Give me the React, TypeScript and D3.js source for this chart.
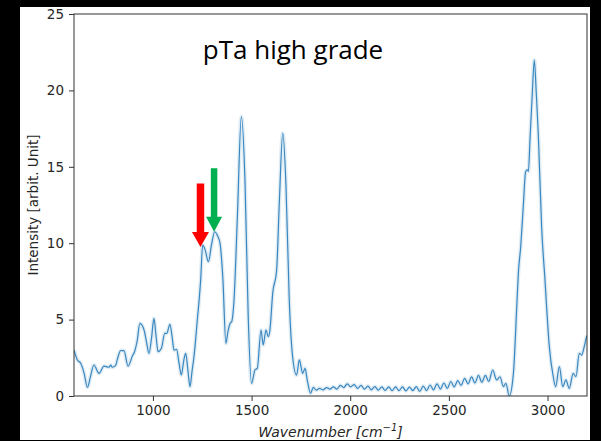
import { useEffect, useRef } from 'react'
import * as d3 from 'd3'

// spectrum (wavenumber in cm^-1, mean intensity)
const wavenumber = [
  600, 617, 634, 651, 668, 684, 701, 727, 752, 777, 786, 794, 811, 819, 836, 853, 874, 896, 907, 920, 934, 955, 968, 980, 993, 1005,
  1016, 1026, 1043, 1060, 1070, 1086, 1097, 1107, 1120, 1133, 1144, 1156, 1166, 1178, 1188, 1198, 1208, 1225, 1242, 1252, 1266, 1281,
  1297, 1313, 1327, 1340, 1354, 1370, 1380, 1391, 1399, 1411, 1428, 1448, 1467, 1483, 1500, 1517, 1529, 1548, 1559, 1573, 1585, 1593,
  1607, 1627, 1641, 1658, 1674, 1691, 1708, 1728, 1742, 1759, 1771, 1782, 1799,
  1813, 1828, 1845, 1862, 1880, 1897, 1915, 1932, 1950, 1967, 1985, 2002, 2020, 2037, 2055, 2072, 2090, 2107, 2125, 2142, 2160, 2177,
  2195, 2212, 2230, 2247, 2265, 2282, 2300, 2317, 2335, 2352, 2370, 2387, 2405, 2422, 2440, 2457, 2475, 2492, 2510, 2527, 2545, 2562,
  2580, 2597, 2615, 2632, 2650, 2667, 2685, 2702, 2722, 2742, 2759, 2776, 2789, 2806, 2827, 2844, 2852, 2864, 2877, 2889, 2898, 2903,
  2911, 2922, 2933, 2943, 2953, 2970, 2987, 3009, 3029, 3041, 3060, 3077, 3093, 3110, 3130, 3144, 3161, 3173, 3186, 3198, 3200,
]

const intensity = [
  3.0, 2.36, 2.14, 1.5, 0.57, 1.3, 2.03, 1.48, 1.96, 1.88, 2.03, 1.88, 2.0, 2.36, 2.97, 2.97, 1.96, 2.62, 2.9, 3.6, 4.75, 4.32, 3.5, 2.79, 3.8, 5.08,
  3.9, 2.9, 3.12, 4.1, 4.1, 4.69, 3.9, 3.0, 3.05, 2.1, 1.37, 2.3, 2.79, 1.6, 0.61, 1.6, 2.57, 4.97, 7.6, 9.88, 9.5, 8.79,
  9.9, 10.75, 10.5, 10.0, 7.8, 3.45, 4.2, 4.75, 4.86, 6.28, 11.7, 18.28, 13.9, 5.19, 0.83, 1.7, 1.81, 4.32, 3.34, 4.32, 3.88, 4.32,
  6.72, 8.25, 12.8, 17.2, 13.9, 6.28, 2.57, 1.37, 2.36, 1.48, 1.81, 1.05, 0.18,
  0.57, 0.38, 0.5, 0.4, 0.55, 0.45, 0.6, 0.45, 0.7, 0.55, 0.8, 0.6, 0.75, 0.5, 0.7, 0.45, 0.65, 0.4, 0.62, 0.38, 0.6, 0.36,
  0.6, 0.35, 0.6, 0.35, 0.6, 0.33, 0.58, 0.35, 0.62, 0.3, 0.65, 0.35, 0.72, 0.4, 0.8, 0.45, 0.85, 0.5, 0.95, 0.6, 1.0, 0.7,
  1.15, 0.8, 1.25, 0.85, 1.35, 0.9, 1.35, 0.95, 1.7, 1.05, 1.26, 0.61, 0.83, 0.0, 1.48, 5.85, 8.03, 9.77, 12.4, 14.68, 14.8, 14.7,
  16.75, 19.6, 21.99, 19.8, 17.2, 11.08, 7.6, 3.23, 1.26, 0.61, 1.92, 0.61, 1.05, 0.5, 1.48, 1.26, 2.79, 2.68, 3.23, 3.88, 3.95,
]

const xTicks = [1000, 1500, 2000, 2500, 3000]
const yTicks = [0, 5, 10, 15, 20, 25]

// arrows marking the two sub-peaks: [wavenumber, intensity at tip, shaft top intensity]
const arrowRed = [1241, 9.75, 13.9]
const arrowGreen = [1310, 10.75, 14.9]

export default function App() {
  const ref = useRef<SVGSVGElement>(null)

  useEffect(() => {
    const svg = d3.select(ref.current)
    svg.selectAll('*').remove()

    const W = 601, H = 441
    const m = { left: 74, top: 14, right: 587, bottom: 396 }

    svg.append('rect').attr('width', W).attr('height', H).attr('fill', '#000')
    svg.append('rect').attr('x', 20).attr('y', 7).attr('width', 570).attr('height', 433).attr('fill', '#fff')

    const x = d3.scaleLinear().domain([600, 3200]).range([m.left, m.right])
    const y = d3.scaleLinear().domain([0, 25]).range([m.bottom, m.top])

    const tickFont = '"DejaVu Sans", sans-serif'

    // axes
    svg.append('g')
      .attr('transform', `translate(0,${m.bottom})`)
      .call(d3.axisBottom(x).tickValues(xTicks).tickSize(5).tickPadding(4).tickFormat(d3.format('d')))
      .call(g => g.select('.domain').remove())
      .call(g => g.selectAll('line').attr('stroke', '#333'))
      .selectAll('text')
      .style('font-family', tickFont)
      .style('font-size', '13.5px')
      .style('fill', '#262626')

    svg.append('g')
      .attr('transform', `translate(${m.left},0)`)
      .call(d3.axisLeft(y).tickValues(yTicks).tickSize(5).tickPadding(5))
      .call(g => g.select('.domain').remove())
      .call(g => g.selectAll('line').attr('stroke', '#333'))
      .selectAll('text')
      .style('font-family', tickFont)
      .style('font-size', '13.5px')
      .style('fill', '#262626')

    // clip for the spectrum
    svg.append('clipPath').attr('id', 'plot-clip')
      .append('rect').attr('x', m.left).attr('y', m.top)
      .attr('width', m.right - m.left).attr('height', m.bottom - m.top)

    const pts = wavenumber.map((w, i) => [w, intensity[i]] as [number, number])
    const line = d3.line<[number, number]>()
      .x(d => x(d[0]))
      .y(d => y(d[1]))
      .curve(d3.curveMonotoneX)

    const plot = svg.append('g').attr('clip-path', 'url(#plot-clip)')

    // spread band
    plot.append('path')
      .attr('d', line(pts))
      .attr('fill', 'none')
      .attr('stroke', '#1f77b4')
      .attr('stroke-opacity', 0.14)
      .attr('stroke-width', 4)
      .attr('stroke-linejoin', 'round')

    plot.append('path')
      .attr('d', line(pts))
      .attr('fill', 'none')
      .attr('stroke', '#3a87c0')
      .attr('stroke-width', 1.2)
      .attr('stroke-linejoin', 'round')

    // spines
    svg.append('rect')
      .attr('x', m.left).attr('y', m.top)
      .attr('width', m.right - m.left).attr('height', m.bottom - m.top)
      .attr('fill', 'none').attr('stroke', '#333').attr('stroke-width', 1)

    // axis labels
    const xl = svg.append('text')
      .attr('x', (m.left + m.right) / 2).attr('y', 437)
      .attr('text-anchor', 'middle')
      .style('font-family', tickFont).style('font-size', '14px').style('font-style', 'italic')
      .style('fill', '#262626')
    xl.append('tspan').text('Wavenumber [cm')
    xl.append('tspan').text('−1').attr('dy', -6).style('font-size', '10px')
    xl.append('tspan').text(']').attr('dy', 6)

    svg.append('text')
      .attr('transform', `translate(38,${(m.top + m.bottom) / 2}) rotate(-90)`)
      .attr('text-anchor', 'middle')
      .style('font-family', tickFont).style('font-size', '13.5px')
      .style('fill', '#262626')
      .text('Intensity [arbit. Unit]')

    // title
    svg.append('text')
      .attr('x', 293).attr('y', 59)
      .attr('text-anchor', 'middle')
      .style('font-family', '"Open Sans", Lato, sans-serif').style('font-size', '26px')
      .style('fill', '#000')
      .text('pTa high grade')

    // arrows
    const arrow = (a: number[], color: string, shaft: number, head: number, headLen: number) => {
      const cx = x(a[0]), tip = y(a[1]), top = y(a[2])
      const hb = tip - headLen
      const p = [
        [cx - shaft / 2, top], [cx + shaft / 2, top], [cx + shaft / 2, hb], [cx + head / 2, hb],
        [cx, tip], [cx - head / 2, hb], [cx - shaft / 2, hb],
      ]
      svg.append('path').attr('d', 'M' + p.map(q => q.join(',')).join('L') + 'Z').attr('fill', color)
    }
    arrow(arrowRed, '#ff0000', 7.5, 17, 15)
    arrow(arrowGreen, '#00b050', 6.5, 16, 15)
  }, [])

  return (
    <div style={{ position: 'fixed', left: 0, top: 0 }}>
      <svg ref={ref} width={601} height={441} style={{ display: 'block' }} />
    </div>
  )
}
